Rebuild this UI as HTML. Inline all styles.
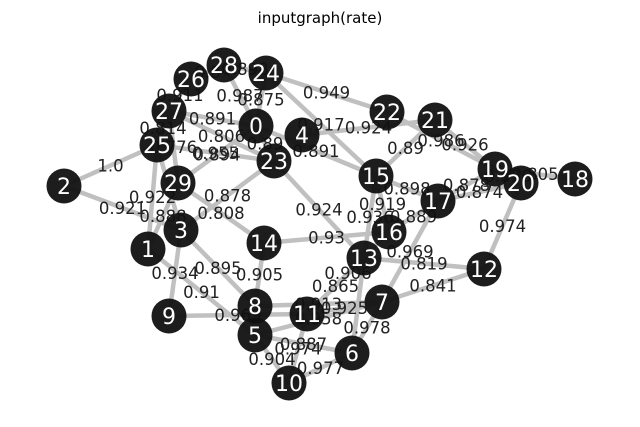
<!DOCTYPE html>
<html><head><meta charset="utf-8"><style>
html,body{margin:0;padding:0;background:#fff;}
svg{display:block;font-family:"DejaVu Sans","Liberation Sans",sans-serif;}
</style></head><body>
<svg id="chart" width="640" height="427" viewBox="0 0 640 427">
<text x="320" y="23" text-anchor="middle" font-size="15" fill="#000">inputgraph(rate)</text>
<g id="edges"></g><g id="elabels"></g><g id="nodes"></g>
</svg>
<script>
const nodeIds = [0,1,2,3,4,5,6,7,8,9,10,11,12,13,14,15,16,17,18,19,20,21,22,23,24,25,26,27,28,29];
const nodeX = [256,148,64,181,302,255,352,382,255,169,289,307,484,364,264,376,389,438,575,495,521,435,387,274,266,157,191,169,224,178];
const nodeY = [126,249,186,230,135,335,353,302,306,316,383,314,269,258,243,176,232,201,179,169,183,120,112,161,73,145,79,111,65,183];
const edgeSrc = [2,2,25,1,29,3,27,25,29,27,25,27,27,28,24,24,4,0,24,0,15,21,22,15,17,17,19,19,20,15,15,16,23,14,17,13,7,16,13,8,11,5,7,9,1,3,3,14,5,5,11,6,13,28,26,25];
const edgeDst = [25,3,1,29,14,23,23,23,0,29,27,26,0,0,0,22,21,23,15,15,21,19,19,17,19,20,18,20,12,16,13,17,13,16,7,12,12,11,11,7,7,7,6,11,5,8,9,8,6,10,10,10,6,24,28,3];
const edgeLabels = ["1.0","0.921","0.922","0.888","0.808","0.878","0.806","0.955","0.894","0.776","0.814","0.911","0.891","0.987","0.875","0.949","0.924","0.89","0.917","0.891","0.89","0.926","0.986","0.898","0.878","0.874","0.805","0.836","0.974","0.919","0.936","0.889","0.924","0.93","0.969","0.819","0.841","0.906","0.865","0.913","0.925","0.958","0.978","0.969","0.91","0.895","0.934","0.905","0.887","0.904","0.974","0.977","","0.898","0.8",""];
const NS="http://www.w3.org/2000/svg";
const gE=document.getElementById('edges'),gL=document.getElementById('elabels'),gN=document.getElementById('nodes');
for(let i=0;i<edgeSrc.length;i++){
  const a=edgeSrc[i],b=edgeDst[i];
  const l=document.createElementNS(NS,'line');
  l.setAttribute('x1',nodeX[a]);l.setAttribute('y1',nodeY[a]);l.setAttribute('x2',nodeX[b]);l.setAttribute('y2',nodeY[b]);
  l.setAttribute('stroke','#c0c0c0');l.setAttribute('stroke-width','4.5');
  
  
  gE.appendChild(l);
  if(edgeLabels[i]){
    const t=document.createElementNS(NS,'text');
    t.setAttribute('x',(nodeX[a]+nodeX[b])/2);t.setAttribute('y',(nodeY[a]+nodeY[b])/2+6);
    t.setAttribute('text-anchor','middle');t.setAttribute('font-size','16.5');t.setAttribute('fill','#222');
    t.textContent=edgeLabels[i];
    
    
    gL.appendChild(t);
  }
}
for(let i=0;i<nodeIds.length;i++){
  const g=document.createElementNS(NS,'g');
  
  
  const c=document.createElementNS(NS,'circle');
  c.setAttribute('cx',nodeX[i]);c.setAttribute('cy',nodeY[i]);c.setAttribute('r','17.5');c.setAttribute('fill','#111');c.setAttribute('fill-opacity','0.95');
  const t=document.createElementNS(NS,'text');
  t.setAttribute('x',nodeX[i]);t.setAttribute('y',nodeY[i]+8);t.setAttribute('text-anchor','middle');t.setAttribute('font-size','22');t.setAttribute('fill','#fff');
  t.textContent=nodeIds[i];
  g.appendChild(c);g.appendChild(t);gN.appendChild(g);
}
</script>
</body></html>
